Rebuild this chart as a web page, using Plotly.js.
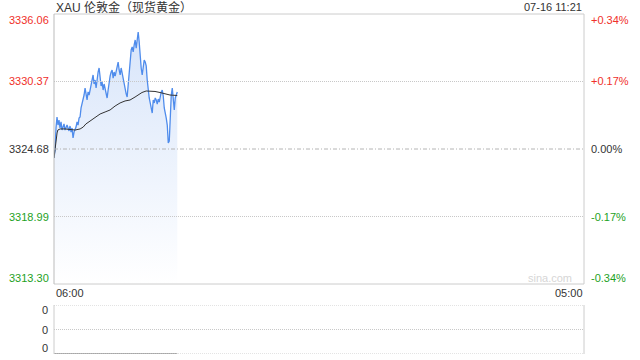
<!DOCTYPE html>
<html><head><meta charset="utf-8">
<script src="https://cdn.plot.ly/plotly-3.0.1.min.js"></script>
<style>html,body{margin:0;padding:0;background:#fff;}#c{width:640px;height:360px;}</style>
</head><body><div id="c"></div>
<script>
// ---- data ----
const title = "XAU 伦敦金（现货黄金）";
const stamp = "07-16 11:21";
const day = "2025-07-16";
const sessionStart = "2025-07-16 06:00";
const sessionEnd = "2025-07-17 05:00";
const lastTime = "2025-07-16 11:21";
const prevClose = 3324.68;
const leftTicks = [3336.06, 3330.37, 3324.68, 3318.99, 3313.30];
const leftTickText = ["3336.06", "3330.37", "3324.68", "3318.99", "3313.30"];
const rightTickText = ["+0.34%", "+0.17%", "0.00%", "-0.17%", "-0.34%"];
const xTickText = ["06:00", "05:00"];
const volTickText = ["0", "0", "0"];
const price = [
 3323.92,3324.60,3326.45,3327.38,3326.70,3327.12,3326.45,3326.96,3326.28,3326.62,
 3326.79,3326.28,3326.53,3326.70,3326.45,3326.20,3326.62,3326.11,3326.45,3325.61,
 3326.11,3326.28,3326.53,3326.96,3326.70,3327.29,3327.38,3328.14,3328.47,3328.81,
 3329.23,3329.82,3329.15,3328.81,3329.49,3329.23,3329.65,3330.08,3330.50,3330.92,
 3330.16,3330.50,3329.82,3330.66,3331.17,3331.51,3330.66,3329.99,3330.33,3329.65,
 3330.16,3329.65,3329.32,3328.98,3329.65,3330.50,3330.83,3331.17,3331.34,3330.66,
 3331.17,3330.83,3331.34,3331.68,3332.01,3331.34,3330.92,3331.51,3331.00,3330.50,
 3329.99,3329.65,3329.32,3329.06,3330.08,3331.34,3332.35,3333.03,3333.28,3332.86,
 3333.45,3333.87,3333.19,3334.04,3334.54,3333.70,3332.44,3331.51,3330.92,3331.51,
 3332.18,3332.01,3331.68,3330.50,3329.49,3328.98,3328.56,3328.14,3327.71,3328.81,
 3328.56,3328.98,3328.81,3328.47,3328.89,3328.64,3329.15,3329.49,3329.65,3329.15,
 3328.14,3327.80,3327.29,3326.70,3325.19,3325.35,3327.55,3329.23,3329.82,3328.47,
 3327.97,3328.98,3329.32,3329.49
];
const avgTimes = ["06:00","06:03","06:05","06:08","06:10","06:16","06:29","06:42","06:55","07:08",
 "07:16","07:23","07:34","07:47","08:00","08:13","08:26","08:39","08:52","09:05",
 "09:18","09:31","09:39","09:49","10:00","10:10","10:23","10:36","10:49","11:02","11:21"];
const avgPrice = [3323.92,3324.85,3325.61,3326.03,3326.28,3326.37,3326.37,3326.32,3326.28,3326.37,
 3326.53,3326.79,3327.04,3327.38,3327.63,3327.80,3327.97,3328.30,3328.56,3328.73,
 3328.81,3329.06,3329.23,3329.44,3329.57,3329.57,3329.53,3329.44,3329.32,3329.23,3329.19];
const volTimes = ["2025-07-16 06:00", "2025-07-16 11:21"];
const volume = [0, 0];

// ---- build ----
const t0 = new Date(sessionStart.replace(" ", "T") + ":00Z").getTime();
const t1 = new Date(lastTime.replace(" ", "T") + ":00Z").getTime();
const step = (t1 - t0) / (price.length - 1);
function fmt(ms){const d=new Date(ms);const p=n=>String(n).padStart(2,"0");
 return d.getUTCFullYear()+"-"+p(d.getUTCMonth()+1)+"-"+p(d.getUTCDate())+" "+p(d.getUTCHours())+":"+p(d.getUTCMinutes())+":"+p(d.getUTCSeconds());}
const priceTimes = price.map((_, i) => fmt(t0 + i * step));
const avgX = avgTimes.map(s => day + " " + s);

const W = 640, H = 360;
const L = 54, R = 584, T = 14, B = 284, VT = 305, VB = 354;
const px = v => v / W, py = v => 1 - v / H;

const red = "#f0302a", green = "#1ea11e", dark = "#333333";
const col = v => v > prevClose + 1e-6 ? red : (v < prevClose - 1e-6 ? green : dark);

const traces = [
 {x: priceTimes, y: price, type: "scatter", mode: "lines", xaxis: "x", yaxis: "y",
  line: {color: "#4f8cec", width: 1.3}, fill: "tozeroy",
  fillgradient: {type: "vertical", start: leftTicks[4], stop: leftTicks[0] - 1.5,
   colorscale: [[0, "rgba(255,255,255,1)"], [1, "rgba(216,229,250,1)"]]},
  hoverinfo: "skip"},
 {x: avgX, y: avgPrice, type: "scatter", mode: "lines", xaxis: "x", yaxis: "y",
  line: {color: "#333333", width: 1}, hoverinfo: "skip"},
 {x: volTimes, y: volume, type: "scatter", mode: "lines", xaxis: "x2", yaxis: "y2",
  line: {color: "#888888", width: 1.5}, hoverinfo: "skip", cliponaxis: false}
];

const shapes = [];
const annotations = [];
const font = {family: "Liberation Sans, Arial, sans-serif", size: 11};
// main grid
leftTicks.forEach((v, i) => {
 if (i > 0 && i < leftTicks.length - 1) {
  const mid = Math.abs(v - prevClose) < 1e-6;
  shapes.push({type: "line", xref: "paper", yref: "y", x0: px(L), x1: px(R), y0: v, y1: v,
   line: {color: mid ? "#b4b4b4" : "#c8c8c8", width: 1, dash: mid ? "4px,2px,1px,2px" : "1px,1px"}});
 }
 const ys = i === 0 ? -6 : (i === leftTicks.length - 1 ? 6 : 0);
 annotations.push({xref: "paper", yref: "y", x: px(L - 3), y: v, yshift: ys, text: leftTickText[i],
  showarrow: false, xanchor: "right", yanchor: "middle", font: Object.assign({}, font, {color: col(v)})});
 annotations.push({xref: "paper", yref: "y", x: px(R + 5), y: v, yshift: ys, text: rightTickText[i],
  showarrow: false, xanchor: "left", yanchor: "middle", font: Object.assign({}, font, {color: col(v)})});
});
// main border
shapes.push({type: "line", xref: "paper", yref: "paper", x0: px(L), x1: px(R), y0: py(T), y1: py(T), line: {color: "#cccccc", width: 1}});
shapes.push({type: "line", xref: "paper", yref: "paper", x0: px(L), x1: px(R), y0: py(B), y1: py(B), line: {color: "#cccccc", width: 1}});
shapes.push({type: "line", xref: "paper", yref: "paper", x0: px(R), x1: px(R), y0: py(T), y1: py(B), line: {color: "#cccccc", width: 1}});
shapes.push({type: "line", xref: "paper", yref: "paper", x0: px(L), x1: px(L), y0: py(T), y1: py(B), line: {color: "#bbbbbb", width: 1}});
// volume panel
[0, 0.5, 1].forEach(f => {
 shapes.push({type: "line", xref: "paper", yref: "y2", x0: px(L), x1: px(R), y0: 1 - f, y1: 1 - f,
  line: {color: "#c8c8c8", width: 1, dash: "1px,1px"}});
});
shapes.push({type: "line", xref: "paper", yref: "paper", x0: px(L), x1: px(L), y0: py(VT), y1: py(VB), line: {color: "#cccccc", width: 1}});
shapes.push({type: "line", xref: "paper", yref: "paper", x0: px(R), x1: px(R), y0: py(VT), y1: py(VB), line: {color: "#cccccc", width: 1}});
volTickText.forEach((s, i) => {
 const v = 1 - i * 0.5;
 const ys = i === 0 ? -5 : (i === 2 ? 6 : 0);
 annotations.push({xref: "paper", yref: "y2", x: px(L - 4), y: v, yshift: ys, text: s, showarrow: false,
  xanchor: "right", yanchor: "middle", font: Object.assign({}, font, {color: dark})});
});
// x labels
annotations.push({xref: "paper", yref: "paper", x: px(L), y: py(B + 9), text: xTickText[0], showarrow: false,
 xanchor: "left", yanchor: "middle", font: Object.assign({}, font, {color: dark})});
annotations.push({xref: "paper", yref: "paper", x: px(R + 1), y: py(B + 9), text: xTickText[1], showarrow: false,
 xanchor: "right", yanchor: "middle", font: Object.assign({}, font, {color: dark})});
// title & stamp
annotations.push({xref: "paper", yref: "paper", x: px(L), y: py(7), text: title, showarrow: false,
 xanchor: "left", yanchor: "middle", font: {family: "Liberation Sans, Noto Sans CJK SC, sans-serif", size: 12, color: dark}});
annotations.push({xref: "paper", yref: "paper", x: px(R), y: py(7), text: stamp, showarrow: false,
 xanchor: "right", yanchor: "middle", font: Object.assign({}, font, {color: dark})});
// watermark
annotations.push({xref: "paper", yref: "paper", x: px(R - 10), y: py(B - 6), text: "sina.com", showarrow: false,
 xanchor: "right", yanchor: "middle", font: Object.assign({}, font, {color: "#d6d6d6"})});

const layout = {
 width: W, height: H, margin: {l: 0, r: 0, t: 0, b: 0}, showlegend: false,
 paper_bgcolor: "#ffffff", plot_bgcolor: "rgba(0,0,0,0)",
 xaxis: {domain: [px(L), px(R)], type: "date", range: [sessionStart, sessionEnd], visible: false, anchor: "y"},
 yaxis: {domain: [py(B), py(T)], range: [leftTicks[4], leftTicks[0]], visible: false, anchor: "x"},
 xaxis2: {domain: [px(L), px(R)], type: "date", range: [sessionStart, sessionEnd], visible: false, anchor: "y2"},
 yaxis2: {domain: [py(VB), py(VT)], range: [0, 1], visible: false, anchor: "x2"},
 shapes: shapes, annotations: annotations
};
Plotly.newPlot("c", traces, layout, {staticPlot: true, displayModeBar: false});
</script></body></html>
